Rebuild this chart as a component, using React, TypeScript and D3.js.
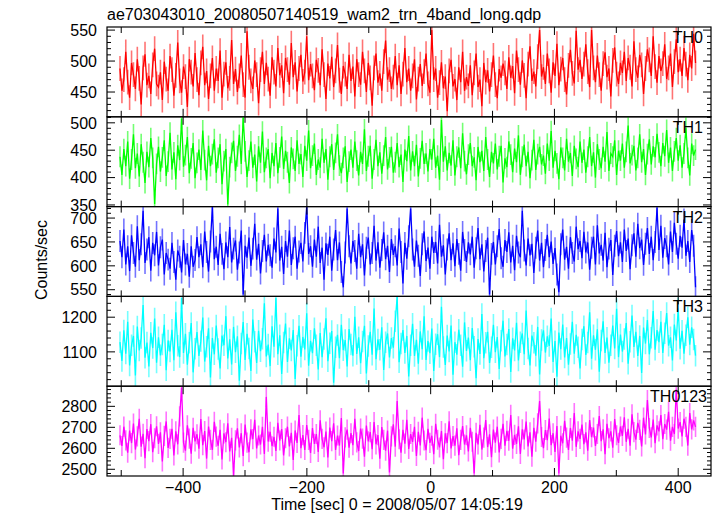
import React from 'react';
import * as d3 from 'd3';

const title = 'ae703043010_20080507140519_wam2_trn_4band_long.qdp';
const xAxisLabel = 'Time [sec] 0 = 2008/05/07 14:05:19';
const yAxisLabel = 'Counts/sec';
const tStart = -502;
const tEnd = 428;

const th0 = [
  488,452,470,515,466,441,497,478,455,503,472,430,489,511,461,476,447,494,520,463,
  458,482,437,499,471,452,508,486,444,477,530,468,449,491,475,426,503,482,459,513,
  470,445,497,523,461,484,439,476,505,452,488,468,517,441,479,498,456,472,534,463,
  487,450,476,509,462,441,548,490,468,455,501,478,432,486,515,463,497,471,444,506,
  482,459,521,477,493,448,505,486,462,529,474,498,451,488,510,467,482,540,469,495,
  476,453,502,485,461,519,478,439,496,472,507,458,484,526,469,447,492,479,455,510,
  468,491,443,503,478,462,515,484,450,497,473,428,489,512,465,480,452,499,533,470,
  486,455,474,508,461,493,447,479,521,466,488,452,476,503,438,471,495,460,483,512,
  463,449,550,470,488,441,465,498,456,475,419,484,502,459,471,437,490,466,515,452,
  474,460,493,445,481,512,458,470,427,497,466,485,451,478,509,462,440,487,473,496,
  481,455,506,473,492,448,517,486,462,501,477,440,495,524,468,483,459,507,550,475,
  490,463,512,484,449,498,476,528,461,487,505,470,446,493,518,480,464,549,486,502,
  471,495,527,483,458,550,489,466,509,478,452,496,514,474,488,443,501,522,479,463,
  497,481,515,468,505,490,459,532,486,473,510,494,447,488,519,502,476,540,491,465,
  508,484,496,527,471,489,512,458,499,535,482,503,476,521,495,469,510,488,544,497,
];

const th1 = [
  438,405,452,421,466,398,433,479,417,444,402,461,428,390,447,419,472,436,352,425,
  456,411,437,468,403,429,482,415,446,397,459,432,508,420,441,474,408,435,463,399,
  427,451,414,486,432,395,458,421,443,470,409,436,461,388,430,452,351,419,445,467,
  412,439,478,425,510,448,401,431,466,418,442,393,457,427,484,410,436,452,399,445,
  421,463,408,437,475,416,449,428,390,455,434,412,468,425,443,401,458,431,486,417,
  440,462,405,433,418,471,427,452,396,438,461,414,445,479,422,408,436,457,392,429,
  451,418,466,431,404,447,425,488,412,439,458,398,433,469,421,446,407,440,474,415,
  437,456,409,428,463,419,442,392,451,430,476,413,448,421,460,402,435,467,425,444,
  411,452,433,471,418,440,396,505,429,457,413,445,422,468,404,438,455,417,481,430,
  406,442,463,421,437,395,456,428,449,412,474,433,401,447,426,462,415,439,458,391,
  435,419,466,442,410,453,428,477,405,438,460,421,447,399,432,469,414,443,456,424,
  440,407,462,431,485,418,449,426,397,455,436,413,471,429,445,403,458,434,419,466,
  427,451,409,438,474,421,446,400,461,433,417,456,429,483,412,444,438,468,405,449,
  431,462,418,447,495,426,441,458,413,436,479,428,452,405,443,470,424,457,437,480,
  446,421,463,439,487,427,455,412,448,472,431,459,418,444,491,436,404,462,440,451,
];

const th2 = [
  652,618,676,603,641,589,664,627,598,683,612,645,715,606,634,660,590,648,622,671,
  601,639,655,582,627,613,594,648,608,571,632,619,586,654,603,625,577,641,598,612,
  660,618,645,597,672,629,588,651,723,614,640,602,667,625,593,649,618,681,607,636,
  653,592,628,674,540,642,617,659,600,636,688,613,646,584,631,665,609,644,622,596,
  657,628,720,611,640,583,652,619,674,602,637,661,594,630,648,609,669,723,625,641,
  598,655,619,682,606,638,571,647,623,661,590,634,675,612,649,587,555,628,720,641,
  605,652,631,594,667,618,645,580,638,659,603,627,684,611,649,596,633,670,614,642,
  587,656,623,641,601,678,629,563,648,615,662,720,634,598,653,621,579,645,672,610,
  638,594,661,627,650,605,686,619,643,582,634,668,612,647,599,656,625,590,671,633,
  608,649,624,661,596,637,679,614,645,588,631,659,540,625,650,603,641,677,616,598,
  654,629,670,607,642,591,663,628,618,715,632,601,657,622,646,585,638,674,611,648,
  597,633,665,618,651,604,637,582,545,645,676,613,640,594,660,627,609,682,635,652,
  616,671,628,649,592,638,661,603,685,626,644,611,669,597,636,654,581,642,673,620,
  649,608,676,631,657,593,643,668,619,688,637,655,602,646,679,625,661,612,650,722,
  633,684,617,658,641,603,672,629,690,646,615,663,638,697,621,652,608,675,642,555,
];

const th3 = [
  1128,1074,1162,1095,1187,1061,1119,1146,1032,1173,1104,1140,1235,1083,1127,1058,1155,1111,1196,1069,
  1142,1090,1121,1178,1047,1133,1101,1164,1076,1214,1118,1085,1255,1097,1152,1063,1126,1183,1041,1109,
  1157,1088,1131,1199,1072,1115,1168,1026,1140,1093,1176,1108,1052,1147,1119,1203,1081,1136,1064,1172,
  1099,1145,1017,1124,1186,1077,1152,1110,1045,1193,1129,1068,1161,1102,1138,1240,1087,1121,1059,1174,
  1115,1255,1093,1148,1036,1127,1182,1071,1139,1104,1163,1022,1118,1175,1086,1143,1107,1211,1060,1132,
  1096,1168,1119,1049,1154,1085,1137,1197,1073,1125,1160,1011,1113,1149,1082,1178,1105,1134,1058,1166,
  1121,1089,1201,1094,1142,1067,1130,1175,1038,1117,1158,1092,1225,1079,1136,1106,1171,1048,1128,1153,
  1084,1140,1112,1188,1260,1070,1124,1163,1097,1146,1029,1119,1181,1088,1135,1066,1159,1108,1203,1077,
  1131,1096,1167,1045,1122,1151,1085,1230,1114,1062,1147,1101,1176,1034,1128,1092,1164,1119,1057,1185,
  1103,1141,1076,1169,1115,1024,1137,1094,1209,1082,1126,1158,1068,1113,1178,1099,1143,1051,1132,1190,
  1087,1121,1166,1042,1139,1104,1184,1075,1128,1153,1093,1219,1110,1061,1147,1126,1089,1172,1035,1134,
  1162,1098,1145,1117,1196,1071,1131,1028,1156,1108,1179,1084,1140,1063,1123,1187,1095,1149,1113,1052,
  1136,1174,1091,1127,1214,1080,1148,1106,1165,1043,1133,1188,1097,1141,1069,1119,1176,1110,1224,1085,
  1150,1101,1137,1183,1066,1129,1205,1114,1158,1088,1146,1039,1170,1124,1192,1093,1141,1218,1106,1163,
  1128,1187,1097,1154,1212,1118,1142,1075,1179,1133,1226,1109,1161,1095,1148,1200,1121,1171,1136,1089,
];

const th0123 = [
  2662,2611,2703,2638,2579,2684,2625,2718,2594,2657,2741,2608,2669,2553,2692,2634,2715,2582,2648,2705,
  2621,2676,2537,2659,2728,2602,2645,2693,2566,2681,2619,2752,2890,2627,2589,2710,2646,2574,2698,2633,
  2667,2598,2739,2615,2682,2551,2704,2640,2593,2726,2656,2612,2688,2547,2671,2629,2719,2585,2650,2470,
  2638,2695,2604,2672,2563,2713,2627,2581,2690,2644,2736,2599,2661,2618,2702,2573,2845,2632,2679,2610,
  2655,2587,2721,2637,2692,2566,2648,2703,2609,2674,2544,2685,2626,2759,2601,2663,2592,2711,2640,2578,
  2697,2621,2668,2583,2733,2645,2605,2680,2556,2699,2634,2719,2592,2661,2613,2744,2480,2652,2689,2603,
  2672,2615,2741,2628,2587,2694,2646,2560,2708,2633,2677,2596,2725,2619,2663,2551,2701,2640,2589,2684,
  2485,2657,2714,2608,2825,2643,2579,2688,2622,2736,2597,2668,2631,2702,2564,2679,2614,2746,2637,2591,
  2693,2626,2660,2572,2717,2641,2604,2682,2548,2671,2625,2729,2599,2658,2613,2695,2567,2640,2706,2618,
  2662,2585,2698,2631,2480,2674,2619,2712,2594,2651,2735,2606,2667,2558,2689,2627,2703,2580,2645,2717,
  2612,2683,2636,2759,2598,2664,2621,2705,2573,2690,2642,2727,2609,2676,2560,2698,2632,2719,2825,2654,
  2601,2687,2639,2742,2615,2672,2583,2706,2480,2660,2624,2731,2651,2592,2697,2636,2768,2607,2681,2645,
  2713,2620,2676,2589,2735,2653,2699,2611,2668,2754,2634,2690,2572,2717,2648,2681,2603,2739,2662,2626,
  2704,2659,2748,2631,2693,2612,2762,2677,2641,2721,2688,2609,2746,2666,2830,2697,2652,2737,2624,2709,
  2681,2758,2643,2716,2689,2774,2636,2702,2668,2880,2694,2725,2657,2741,2702,2613,2768,2690,2733,2702,
];

const bandNames = ['TH0', 'TH1', 'TH2', 'TH3', 'TH0123'];
const bandColors = ['#ff0000', '#00ff00', '#0000ff', '#00ffff', '#ff00ff'];
const bandSeries = [th0, th1, th2, th3, th0123];
const bandErrors = [20, 19, 23, 31, 48];
const yDomains: [number, number][] = [[410, 555], [347, 511], [536, 724], [1001, 1260], [2468, 2896]];
const yMajorTicks = [[450, 500, 550], [350, 400, 450, 500], [550, 600, 650, 700], [1100, 1200], [2500, 2600, 2700, 2800]];
const yMinorStep = [10, 10, 10, 20, 20];
const xTickValues = [-500, -400, -300, -200, -100, 0, 100, 200, 300, 400];
const xTickLabels = [-400, -200, 0, 200, 400];

const W = 717;
const H = 516;
const left = 107;
const right = 711;
const top = 27;
const bottom = 476;
const FONT = '"Liberation Sans", Arial, Helvetica, sans-serif';

export default function App() {
  const x = d3.scaleLinear().domain([-523, 453]).range([left, right]);
  const panelH = (bottom - top) / bandNames.length;

  const panels = bandNames.map((name, k) => {
    const y0 = top + k * panelH;
    const y1 = y0 + panelH;
    const y = d3.scaleLinear().domain(yDomains[k]).range([y1, y0]);
    const vals = bandSeries[k];
    const err = bandErrors[k];
    const tScale = d3.scaleLinear().domain([0, vals.length - 1]).range([tStart, tEnd]);
    const line = d3
      .line<number>()
      .x((_, i) => x(tScale(i)))
      .y((v) => y(v));
    const [lo, hi] = yDomains[k];
    const minors = d3.range(Math.ceil(lo / yMinorStep[k]) * yMinorStep[k], hi + 0.001, yMinorStep[k]);
    const clipId = `clip${k}`;
    const errPath = vals
      .map((v, i) => {
        const px = x(tScale(i));
        return `M${px},${y(v - err)}V${y(v + err)}`;
      })
      .join('');
    return (
      <g key={name}>
        <clipPath id={clipId}>
          <rect x={left} y={y0} width={right - left} height={panelH} />
        </clipPath>
        <g clipPath={`url(#${clipId})`}>
          <path d={errPath} fill="none" stroke={bandColors[k]} strokeOpacity={0.55} strokeWidth={1.6} />
          <path d={line(vals) || ''} fill="none" stroke={bandColors[k]} strokeWidth={1.3} />
        </g>
        {minors.map((v) => {
          const major = yMajorTicks[k].includes(v);
          const len = major ? 8 : 4;
          return (
            <g key={`m${v}`}>
              <line x1={left} x2={left + len} y1={y(v)} y2={y(v)} stroke="#000" strokeWidth={1} />
              <line x1={right} x2={right - len} y1={y(v)} y2={y(v)} stroke="#000" strokeWidth={1} />
            </g>
          );
        })}
        {yMajorTicks[k].map((v) => (
          <text
            key={`l${v}`}
            x={97}
            y={y(v)}
            dy="0.36em"
            textAnchor="end"
            fontSize={16}
            fontFamily={FONT}
            fill="#000"
          >
            {v}
          </text>
        ))}
        {xTickValues.map((t) => {
          const major = xTickLabels.includes(t);
          const len = major ? 8 : 6;
          return (
            <g key={`x${t}`}>
              <line x1={x(t)} x2={x(t)} y1={y0} y2={y0 + len} stroke="#000" strokeWidth={1} />
              <line x1={x(t)} x2={x(t)} y1={y1} y2={y1 - len} stroke="#000" strokeWidth={1} />
            </g>
          );
        })}
        <rect x={left} y={y0} width={right - left} height={panelH} fill="none" stroke="#000" strokeWidth={1.2} />
        <text
          x={k === 4 ? 707 : 703}
          y={y0 + 16}
          textAnchor="end"
          fontSize={16}
          fontFamily={FONT}
          fill="#000"
        >
          {name}
        </text>
      </g>
    );
  });

  return (
    <svg width={W} height={H} style={{ position: 'absolute', left: 0, top: 0, background: '#fff' }}>
      <rect x={0} y={0} width={W} height={H} fill="#fff" />
      <text x={left} y={20} fontSize={16} fontFamily={FONT} fill="#000">
        {title}
      </text>
      {panels}
      {xTickLabels.map((t) => (
        <text key={t} x={x(t)} y={493} textAnchor="middle" fontSize={16} fontFamily={FONT} fill="#000">
          {t < 0 ? `\u2212${Math.abs(t)}` : t}
        </text>
      ))}
      <text x={397} y={510} textAnchor="middle" fontSize={16} fontFamily={FONT} fill="#000">
        {xAxisLabel}
      </text>
      <text
        transform={`translate(47,260) rotate(-90)`}
        textAnchor="middle"
        fontSize={16}
        fontFamily={FONT}
        fill="#000"
      >
        {yAxisLabel}
      </text>
    </svg>
  );
}
